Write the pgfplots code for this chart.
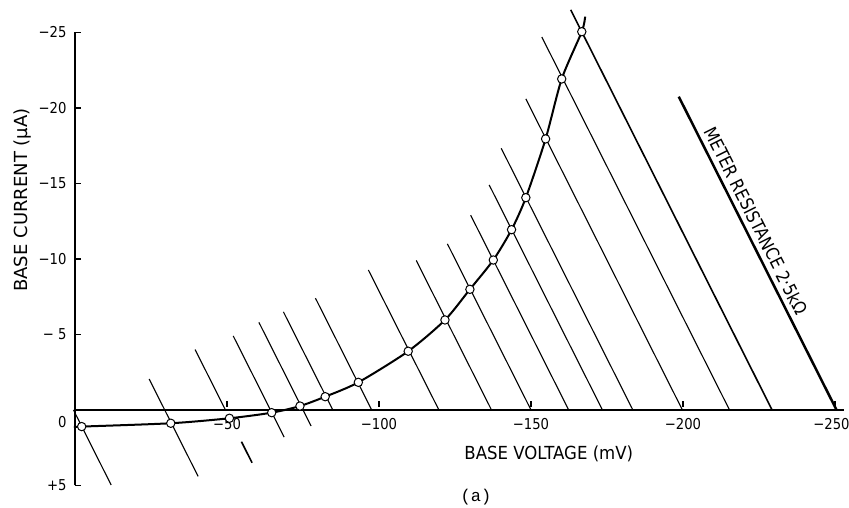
\documentclass[border=0pt]{standalone}
\usepackage{pgfplots}
\pgfplotsset{compat=1.18}
\usepackage{fontspec}
\setmainfont{DejaVu Sans}
\newfontfamily\tickfont{DejaVu Sans}[FakeStretch=0.88]
\newfontfamily\labfont{DejaVu Sans}[FakeStretch=0.92]
\newfontfamily\ylabfont{DejaVu Sans}[FakeStretch=1.0]
\newfontfamily\metfont{DejaVu Sans}[FakeStretch=0.87]
\newfontfamily\capfont{Liberation Mono}
\begin{document}
\begin{tikzpicture}
\begin{axis}[
  scale only axis,
  width=769.12pt, height=453pt,
  xmin=0, xmax=253, ymin=-5, ymax=25,
  clip=false,
  axis x line*=middle, axis y line*=left,
  xtick={50,100,150,200,250},
  xticklabels={−50,−100,−150,−200,\hspace*{-7pt}−250},
  ytick={-5,0,5,10,15,20,25},
  yticklabels={+5,\raisebox{-18pt}[0pt][0pt]{0},− 5,−10,−15,−20,−25},
  tick align=inside,
  major tick length=6pt,
  major x tick style={yshift=3pt},
  ticklabel style={font=\tickfont\fontsize{15}{15}\selectfont},
  yticklabel style={xshift=-5pt},
  xticklabel style={yshift=-5pt},
  axis line style={line width=1.2pt},
  tick style={line width=1.1pt, black},
  xlabel={\labfont\fontsize{18}{18}\selectfont BASE VOLTAGE (mV)},
  xlabel style={at={(axis description cs:0.616,0.0697)}, anchor=center},
  ylabel={\ylabfont\fontsize{18}{18}\selectfont BASE CURRENT (µA)},
  ylabel style={at={(axis description cs:-0.068,0.63)}, anchor=center},
]
% load lines
\addplot[black, line width=1.1pt] coordinates {(-0.5,0) (11.9,-4.97)};
\addplot[black, line width=1.1pt] coordinates {(24.4,2.05) (40.5,-4.4)};
\addplot[black, line width=1.1pt] coordinates {(39.5,4.0) (49.5,0)};
\addplot[black, line width=1.6pt] coordinates {(54.75,-2.1) (58.25,-3.5)};
\addplot[black, line width=1.1pt] coordinates {(52.05,4.9) (68.8,-1.8)};
\addplot[black, line width=1.1pt] coordinates {(60.5,5.8) (77.65,-1.06)};
\addplot[black, line width=1.1pt] coordinates {(68.55,6.5) (84.8,0)};
\addplot[black, line width=1.1pt] coordinates {(79.1,7.4) (97.6,0)};
\addplot[black, line width=1.1pt] coordinates {(96.5,9.27) (119.7,0)};
\addplot[black, line width=1.1pt] coordinates {(112.25,9.9) (137,0)};
\addplot[black, line width=1.1pt] coordinates {(122.5,11.0) (150,0)};
\addplot[black, line width=1.1pt] coordinates {(130.15,12.9) (162.4,0)};
\addplot[black, line width=1.1pt] coordinates {(136.25,14.9) (173.5,0)};
\addplot[black, line width=1.1pt] coordinates {(140.2,17.33) (183.5,0)};
\addplot[black, line width=1.1pt] coordinates {(148.3,20.6) (199.8,0)};
\addplot[black, line width=1.1pt] coordinates {(153.55,24.7) (215.3,0)};
\addplot[black, line width=1.6pt] coordinates {(163.05,26.5) (229.3,0)};
% meter resistance line
\addplot[black, line width=2.5pt] coordinates {(198.6,20.75) (250.5,0)};
% characteristic curve
\addplot[black, line width=2pt, smooth, tension=0.45] coordinates {
 (0,-1.12) (2.2,-1.1) (31.5,-0.88) (50.8,-0.55) (64.7,-0.18) (74,0.26)
 (82.3,0.88) (93.2,1.83) (109.6,3.89) (121.7,5.96) (129.9,7.99)
 (137.6,9.93) (143.6,11.94) (148.3,14.06) (154.8,17.95) (160.1,21.92)
 (166.7,25.05) (167.8,26.05)};
% measured points
\addplot[only marks, mark=*, mark size=4.2pt,
  mark options={fill=white, draw=black, line width=1pt}] coordinates {
 (2.2,-1.1) (31.5,-0.88) (50.8,-0.55) (64.7,-0.18) (74,0.26)
 (82.3,0.88) (93.2,1.83) (109.6,3.89) (121.7,5.96) (129.9,7.99)
 (137.6,9.93) (143.6,11.94) (148.3,14.06) (154.8,17.95) (160.1,21.92)
 (166.7,25.05)};
\node[rotate=-63.3, anchor=center, font=\metfont\fontsize{18}{18}\selectfont]
  at (axis cs:224,12.53) {METER RESISTANCE 2·5kΩ};
\node[anchor=center, font=\capfont\fontsize{17}{17}\selectfont]
  at (axis cs:131.9,-5.76) {(a)};
\coordinate (bbl) at (axis cs:-24.67,-6.49);
\coordinate (btr) at (axis cs:254.6,27.15);
\end{axis}
\pgfresetboundingbox
\path[use as bounding box] (bbl) rectangle (btr);
\end{tikzpicture}
\end{document}
